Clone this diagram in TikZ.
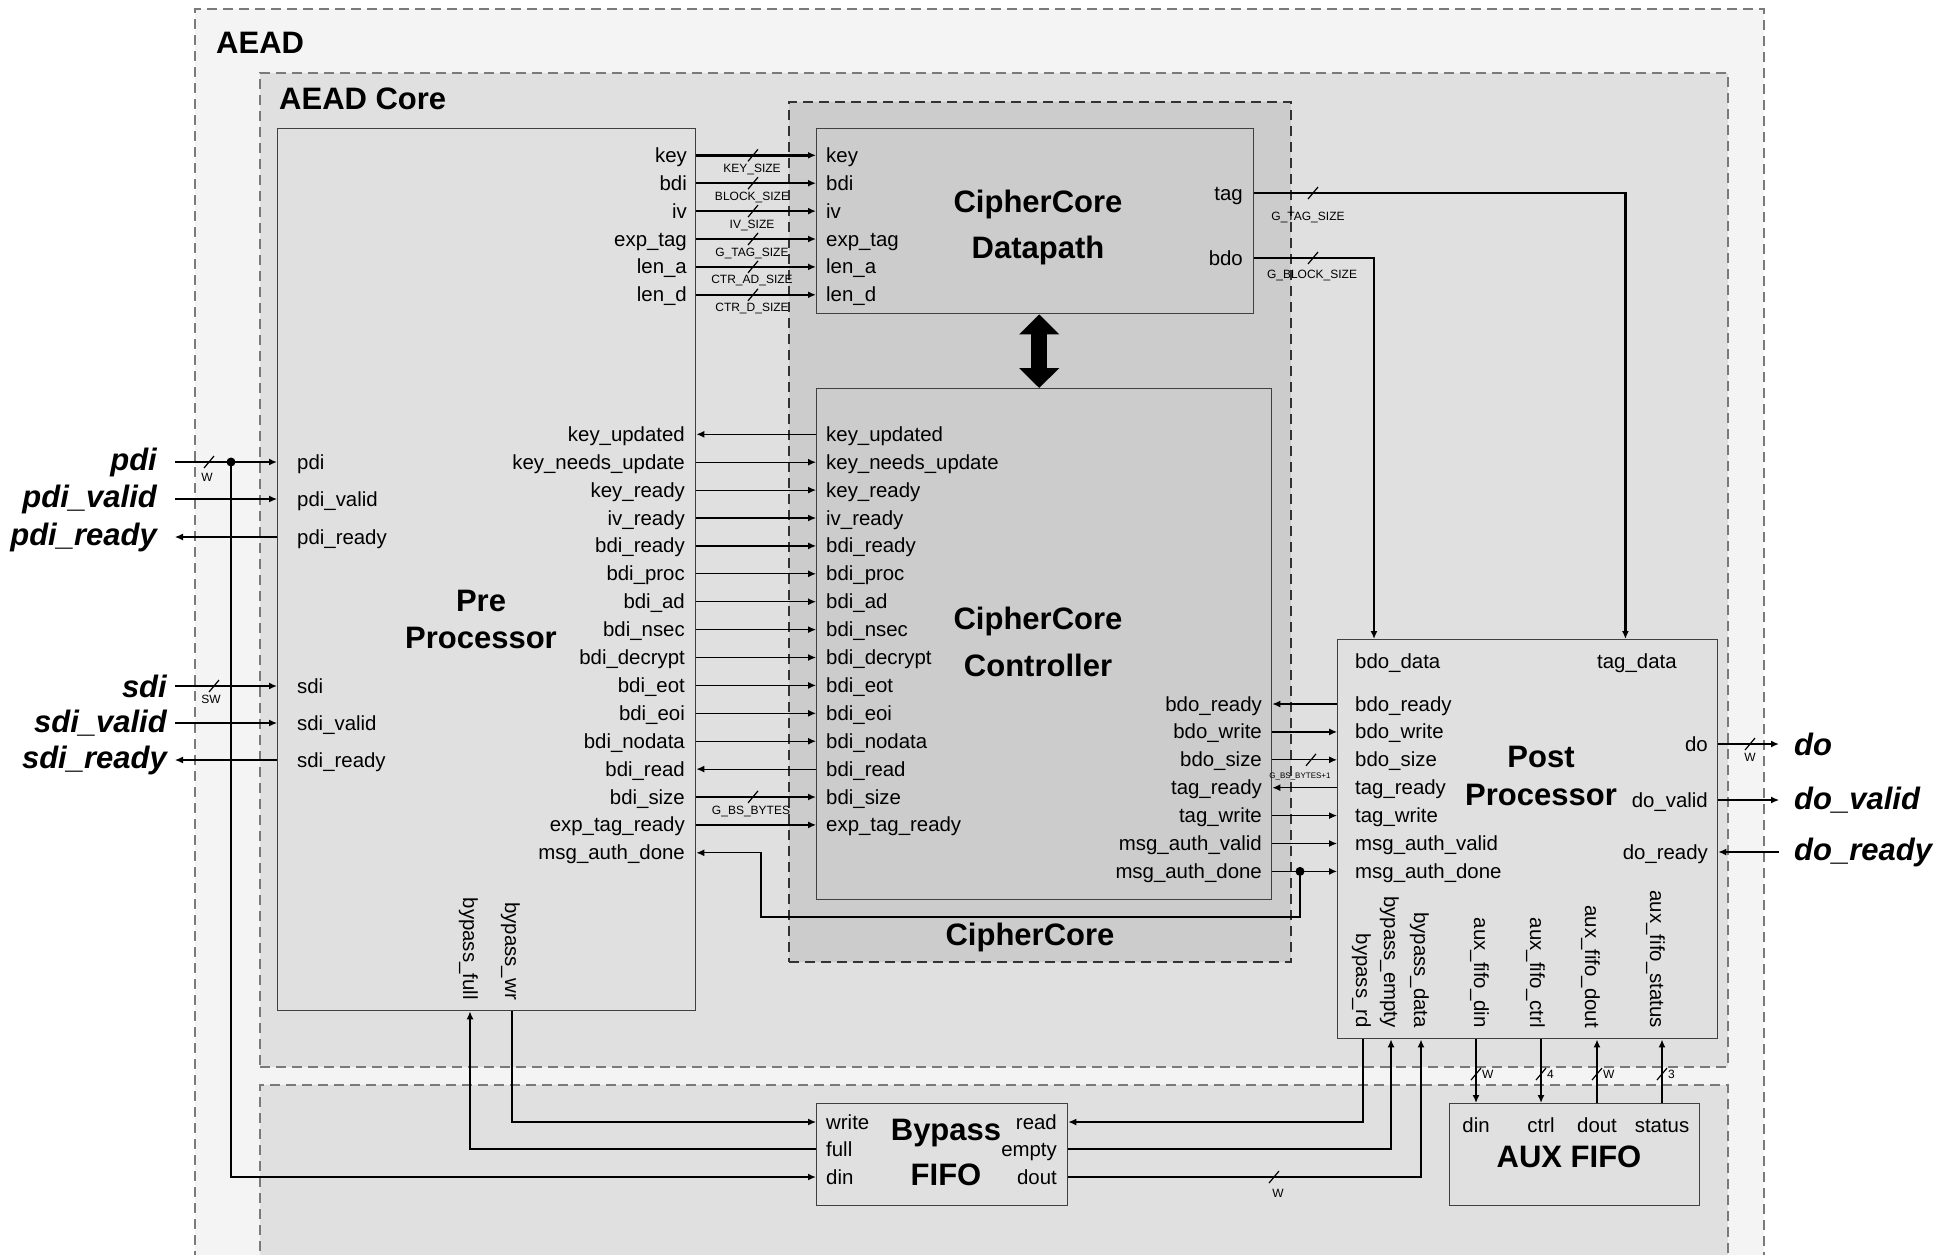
\documentclass[tikz,border=0pt]{standalone}
\usepackage{fontspec}
\setmainfont{Liberation Sans}
\usetikzlibrary{arrows.meta}
\definecolor{aeadbg}{HTML}{F4F4F4}
\definecolor{corebg}{HTML}{E0E0E0}
\definecolor{cipherbg}{HTML}{CCCCCC}
\definecolor{dashgray}{HTML}{7A7A7A}
\newcommand{\busmark}[2]{\draw[line width=1.2pt] (#1,#2) +(-5,6) -- +(5,-6);}

\begin{document}
\begin{tikzpicture}[x=1pt, y=-1pt,
  >={Latex[length=8pt, width=7pt]},
  region/.style={draw=dashgray, dash pattern=on 10pt off 6pt, line width=1.5pt,
    anchor=north west, inner sep=0pt},
  blockbox/.style={draw=black!75, line width=1.4pt, anchor=north west, inner sep=0pt},
  sig/.style={font=\fontsize{20.4}{24}\selectfont, inner sep=0pt, text height=18pt, text depth=4pt},
  vsig/.style={sig, rotate=-90, anchor=east},
  blocktitle/.style={font=\fontsize{31}{37}\selectfont\bfseries, align=center, inner sep=0pt},
  extport/.style={font=\fontsize{31}{37}\selectfont\bfseries\itshape, inner ysep=0pt},
  wlbl/.style={font=\fontsize{12}{14}\selectfont, inner sep=0pt},
  fwd/.style={->, line width=1.2pt},
  bwd/.style={<-, line width=1.2pt},
  busfwd/.style={->, line width=2.4pt},
  biarr/.style={{Triangle[length=20pt, width=39pt]}-{Triangle[length=20pt, width=39pt]}, line width=16pt},
]
\useasboundingbox (0,0) rectangle (1950,1254);
\clip (0,0) rectangle (1950,1254);
\fill[white] (0,0) rectangle (1950,1254);

% regions
\node[region, fill=aeadbg, minimum width=1569pt, minimum height=1300pt] (aead) at (194,8) {};
\node[blocktitle, anchor=west] (aeadT) at (216,43) {AEAD};
\node[region, fill=corebg, minimum width=1468pt, minimum height=994pt] (core) at (259,72) {};
\node[blocktitle, anchor=west] (coreT) at (279,99) {AEAD Core};
\node[region, fill=corebg, minimum width=1468pt, minimum height=300pt] (lower) at (259,1084) {};
\node[region, fill=cipherbg, draw=black!80, minimum width=502pt, minimum height=860pt] (cc) at (788,101) {};
\node[blocktitle] (ccT) at (1030,937) {CipherCore};

% blocks
\node[blockbox, fill=corebg, minimum width=418pt, minimum height=882pt] (pre) at (277,128) {};
\node[blocktitle] (preT) at (481,619) {Pre\\Processor};
\node[blockbox, fill=cipherbg, minimum width=437pt, minimum height=185pt] (dp) at (816,128) {};
\node[blocktitle] (dpT) at (1038,227) {CipherCore\\[9pt]Datapath};
\node[blockbox, fill=cipherbg, minimum width=455pt, minimum height=511pt] (ctrl) at (816,388) {};
\node[blocktitle] (ctrlT) at (1038,642) {CipherCore\\[10pt]Controller};
\node[blockbox, fill=corebg, minimum width=380pt, minimum height=399pt] (post) at (1337,639) {};
\node[blocktitle] (postT) at (1541,776) {Post\\[1pt]Processor};
\node[blockbox, fill=corebg, minimum width=251pt, minimum height=102pt] (byp) at (816,1103) {};
\node[blocktitle] (bypT) at (946,1152) {Bypass\\[8pt]FIFO};
\node[blockbox, fill=corebg, minimum width=250pt, minimum height=102pt] (aux) at (1449,1103) {};
\node[blocktitle] (auxT) at (1569,1157) {AUX FIFO};

\draw[biarr] ([xshift=4pt]dp.south) -- ([xshift=4pt]dp.south |- ctrl.north);

% preprocessor -> datapath
\foreach \nm/\sz [count=\i from 0] in {key/KEY\_SIZE, bdi/BLOCK\_SIZE, iv/IV\_SIZE,
    exp\_tag/G\_TAG\_SIZE, len\_a/CTR\_AD\_SIZE, len\_d/CTR\_D\_SIZE}{
  \node[sig, anchor=east] (pd\i) at (687,155.3+27.9*\i) {\nm};
  \node[sig, anchor=west] (dpp\i) at (826,155.3+27.9*\i) {\nm};
  \draw[busfwd] (pre.east |- pd\i) -- (dp.west |- dpp\i);
  \busmark{753}{155.3+27.9*\i}
  \node[wlbl] (pdw\i) at (752,169.3+27.9*\i) {\sz};
}

% preprocessor <-> controller
\foreach \nm/\sty [count=\i from 0] in {key\_updated/bwd, key\_needs\_update/fwd,
    key\_ready/fwd, iv\_ready/fwd, bdi\_ready/fwd, bdi\_proc/fwd, bdi\_ad/fwd,
    bdi\_nsec/fwd, bdi\_decrypt/fwd, bdi\_eot/fwd, bdi\_eoi/fwd, bdi\_nodata/fwd,
    bdi\_read/bwd, bdi\_size/busfwd, exp\_tag\_ready/fwd}{
  \node[sig, anchor=east] (pc\i) at (685,434.3+27.9*\i) {\nm};
  \node[sig, anchor=west] (cp\i) at (826,434.3+27.9*\i) {\nm};
  \draw[\sty] (pre.east |- pc\i) -- (ctrl.west |- cp\i);
}
\busmark{753}{796.9}
\node[wlbl] (bdiw) at (751,811) {G\_BS\_BYTES};
\node[sig, anchor=east] (pc15) at (685,852.8) {msg\_auth\_done};

% controller <-> postprocessor
\foreach \nm/\sty [count=\i from 0] in {bdo\_ready/bwd, bdo\_write/fwd, bdo\_size/fwd,
    tag\_ready/bwd, tag\_write/fwd, msg\_auth\_valid/fwd, msg\_auth\_done/fwd}{
  \node[sig, anchor=east] (cq\i) at (1262,704+27.9*\i) {\nm};
  \node[sig, anchor=west] (qc\i) at (1355,704+27.9*\i) {\nm};
  \draw[\sty] (ctrl.east |- cq\i) -- (post.west |- qc\i);
}
\busmark{1311}{759.8}
\node[font=\fontsize{8}{9}\selectfont, inner sep=0pt] (bdow) at (1300,776) {G\_BS\_BYTES+1};
\coordinate (madJ) at (1300,871.4);
\coordinate (madB) at (761,917);
\fill (madJ) circle (4.5pt);
\draw[fwd] (madJ) |- (madB) |- (pre.east |- pc15);

% datapath -> postprocessor
\node[sig, anchor=east] (dtag) at (1243,193) {tag};
\node[sig, anchor=east] (dbdo) at (1243,258) {bdo};
\node[sig, anchor=west] (qbdo) at (1355,661) {bdo\_data};
\node[sig, anchor=west] (qtag) at (1597,661) {tag\_data};
\draw[busfwd] (dp.east |- dtag) -| ([xshift=-93pt]post.north east);
\draw[busfwd] (dp.east |- dbdo) -| ([xshift=37pt]post.north west);
\busmark{1313}{193}
\busmark{1313}{258}
\node[wlbl] (tagw) at (1308,217) {G\_TAG\_SIZE};
\node[wlbl] (bdow2) at (1312,275) {G\_BLOCK\_SIZE};

% external ports
\foreach \nm/\yy/\sep/\sty [count=\i] in {pdi/462/18/busfwd, pdi\_valid/499/18/fwd,
    pdi\_ready/537/18/bwd, sdi/686/8/busfwd, sdi\_valid/723/8/fwd, sdi\_ready/760/8/bwd}{
  \node[extport, anchor=east, inner xsep=\sep pt] (ext\i) at (175,\yy) {\nm};
  \node[sig, anchor=west] (pin\i) at (297,\yy) {\nm};
  \draw[\sty] (ext\i.east) -- (pre.west |- pin\i);
}
\busmark{209}{462}
\node[wlbl] (pdiw) at (207,477) {W};
\busmark{214}{686}
\node[wlbl] (sdiw) at (211,699) {SW};
\foreach \nm/\yy/\sty [count=\i] in {do/744/busfwd, do\_valid/800/fwd, do\_ready/852/bwd}{
  \node[sig, anchor=east] (pout\i) at (1708,\yy) {\nm};
  \node[extport, anchor=west, inner xsep=15pt] (outp\i) at (1779,\yy) {\nm};
  \draw[\sty] (post.east |- pout\i) -- (outp\i.west);
}
\busmark{1750}{744}
\node[wlbl] (dow) at (1750,757) {W};

% bypass fifo
\node[sig, anchor=west] (fwr) at (826,1122) {write};
\node[sig, anchor=west] (ffull) at (826,1149) {full};
\node[sig, anchor=west] (fdin) at (826,1177) {din};
\node[sig, anchor=east] (frd) at (1057,1122) {read};
\node[sig, anchor=east] (femp) at (1057,1149) {empty};
\node[sig, anchor=east] (fdout) at (1057,1177) {dout};
\node[vsig] (vfull) at (470,1000) {bypass\_full};
\node[vsig] (vwr) at (512,1000) {bypass\_wr};
\coordinate (pdiJ) at (231,462);
\fill (pdiJ) circle (4.5pt);
\draw[busfwd] (pdiJ) |- (byp.west |- fdin);
\draw[fwd] (pre.south -| vwr.east) |- (byp.west |- fwr);
\draw[fwd] (byp.west |- ffull) -| (pre.south -| vfull.east);

\node[vsig] (vrd) at (1363,1028) {bypass\_rd};
\node[vsig] (vemp) at (1391,1028) {bypass\_empty};
\node[vsig] (vdat) at (1421,1028) {bypass\_data};
\draw[fwd] (post.south -| vrd.east) |- (byp.east |- frd);
\draw[fwd] (byp.east |- femp) -| (post.south -| vemp.east);
\draw[busfwd] (byp.east |- fdout) -| (post.south -| vdat.east);
\busmark{1274}{1177}
\node[wlbl] (dataw) at (1278,1193) {W};

% aux fifo
\node[sig] (adin) at (1476,1125) {din};
\node[sig] (actl) at (1541,1125) {ctrl};
\node[sig] (adout) at (1597,1125) {dout};
\node[sig] (astat) at (1662,1125) {status};
\node[vsig] (vadin) at (1481,1028) {aux\_fifo\_din};
\node[vsig] (vactl) at (1537,1028) {aux\_fifo\_ctrl};
\node[vsig] (vadout) at (1592,1028) {aux\_fifo\_dout};
\node[vsig] (vastat) at (1657,1028) {aux\_fifo\_status};
\draw[busfwd] (post.south -| adin) -- (aux.north -| adin);
\draw[busfwd] (post.south -| actl) -- (aux.north -| actl);
\draw[busfwd] (aux.north -| adout) -- (post.south -| adout);
\draw[busfwd] (aux.north -| astat) -- (post.south -| astat);
\foreach \xx/\w in {1476/W, 1541/4, 1597/W, 1662/3}{
  \busmark{\xx}{1074}
  \node[wlbl, anchor=west] at (\xx+6,1074) {\w};
}
\end{tikzpicture}
\end{document}
